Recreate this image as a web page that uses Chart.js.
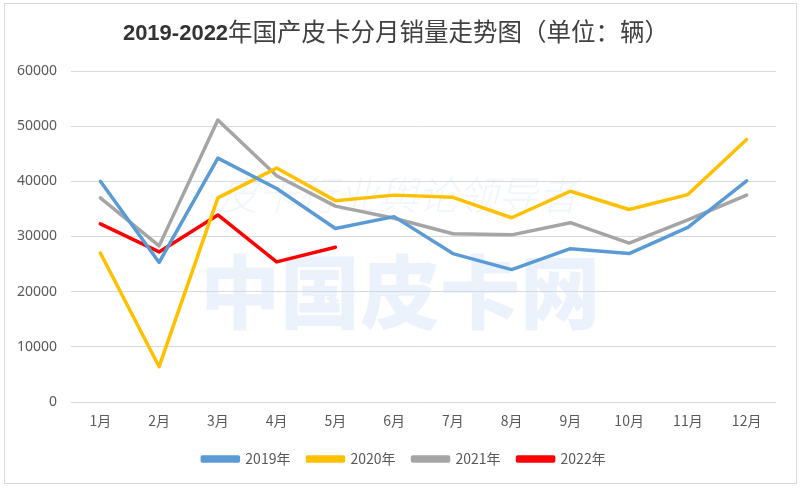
<!DOCTYPE html>
<html>
<head>
<meta charset="utf-8">
<script src="https://cdn.jsdelivr.net/npm/chart.js@4/dist/chart.umd.min.js"></script>
<style>
  html, body { margin: 0; padding: 0; background: #fff; }
  #wrap { position: relative; width: 800px; height: 490px; }
</style>
</head>
<body>
<div id="wrap"><canvas id="chart" width="800" height="490"></canvas></div>
<script>
// Data
const months = ['1月', '2月', '3月', '4月', '5月', '6月', '7月', '8月', '9月', '10月', '11月', '12月'];
const sales2019 = [40000, 25300, 44200, 38700, 31450, 33600, 26900, 24000, 27800, 26900, 31650, 40100];
const sales2020 = [27000, 6400, 37000, 42400, 36500, 37500, 37100, 33400, 38200, 34900, 37600, 47600];
const sales2021 = [37000, 28300, 51100, 41000, 35500, 33300, 30500, 30300, 32500, 28800, 33000, 37500];
const sales2022 = [32300, 27200, 33900, 25400, 28050];
const yTicks = [0, 10000, 20000, 30000, 40000, 50000, 60000];

const titleNum = '2019-2022';
const titleText = '年国产皮卡分月销量走势图（单位：辆）';
const watermark = '中国皮卡网';
const watermarkSub = '皮卡行业舆论领导者';

const tickColor = '#595959';
const gridColor = '#d9d9d9';

// Frame, title and the faint site watermark
const decor = {
  id: 'decor',
  beforeDraw(chart) {
    const ctx = chart.ctx;
    ctx.save();
    ctx.fillStyle = '#fff';
    ctx.fillRect(0, 0, chart.width, chart.height);
    ctx.strokeStyle = '#d9d9d9';
    ctx.lineWidth = 1;
    ctx.strokeRect(4.5, 3.5, 792, 480);

    ctx.textBaseline = 'middle';
    const numFont = 'bold 22px "Liberation Sans", sans-serif';
    const txtFont = '24.5px "Noto Sans CJK SC", sans-serif';
    ctx.font = numFont;
    const w1 = ctx.measureText(titleNum).width;
    ctx.font = txtFont;
    const w2 = ctx.measureText(titleText).width;
    let x = 396 - (w1 + w2) / 2;
    ctx.font = numFont;
    ctx.fillStyle = '#333333';
    ctx.fillText(titleNum, x, 34);
    ctx.font = txtFont;
    ctx.fillStyle = '#404040';
    ctx.fillText(titleText, x + w1, 32);
    ctx.restore();
  },
  beforeDatasetsDraw(chart) {
    const ctx = chart.ctx;
    ctx.save();
    ctx.textAlign = 'center';
    ctx.textBaseline = 'middle';
    ctx.fillStyle = 'rgba(205, 220, 245, 0.38)';
    ctx.font = '900 80px "Noto Sans CJK SC", sans-serif';
    ctx.fillText(watermark, 400, 292);
    ctx.fillStyle = 'rgba(205, 220, 245, 0.28)';
    ctx.font = 'italic 300 40px "Noto Sans CJK SC", sans-serif';
    ctx.fillText(watermarkSub, 398, 195);
    ctx.restore();
  }
};

const lineStyle = { borderWidth: 3.5, pointRadius: 0, pointHoverRadius: 0, tension: 0, fill: false, borderJoinStyle: 'round', borderCapStyle: 'round' };

new Chart(document.getElementById('chart'), {
  type: 'line',
  data: {
    labels: months,
    datasets: [
      { label: '2019年', data: sales2019, borderColor: '#5b9bd5', backgroundColor: '#5b9bd5', ...lineStyle },
      { label: '2020年', data: sales2020, borderColor: '#ffc000', backgroundColor: '#ffc000', ...lineStyle },
      { label: '2021年', data: sales2021, borderColor: '#a5a5a5', backgroundColor: '#a5a5a5', ...lineStyle },
      { label: '2022年', data: sales2022, borderColor: '#ff0000', backgroundColor: '#ff0000', ...lineStyle },
    ],
  },
  options: {
    responsive: false,
    animation: false,
    layout: { padding: { left: 8, right: 0, top: 71, bottom: 14 } },
    plugins: {
      title: { display: false },
      tooltip: { enabled: false },
      legend: {
        position: 'bottom',
        labels: {
          color: tickColor,
          font: { size: 14, family: '"Noto Sans CJK SC", sans-serif' },
          boxWidth: 36,
          boxHeight: 4,
          padding: 17,
        },
      },
    },
    scales: {
      x: {
        offset: true,
        grid: { display: false },
        border: { display: false },
        ticks: { color: tickColor, font: { size: 14, family: '"Noto Sans CJK SC", sans-serif' }, padding: 2, maxRotation: 0 },
        afterFit: s => { s.height = 33; },
      },
      y: {
        min: 0,
        max: 60000,
        afterBuildTicks: s => { s.ticks = yTicks.map(v => ({ value: v })); },
        grid: { color: gridColor, lineWidth: 1, drawTicks: false },
        border: { display: false },
        ticks: { color: tickColor, font: { size: 14, family: '"Noto Sans", sans-serif' }, padding: 14, callback: v => String(v) },
        afterFit: s => { s.width = 63; },
      },
      // empty right-hand spacer so the plot ends where the reference's does
      yRight: {
        position: 'right',
        min: 0,
        max: 1,
        grid: { display: false },
        border: { display: false },
        ticks: { display: false },
        afterFit: s => { s.width = 24; },
      },
    },
  },
  plugins: [decor],
});
</script>
</body>
</html>
